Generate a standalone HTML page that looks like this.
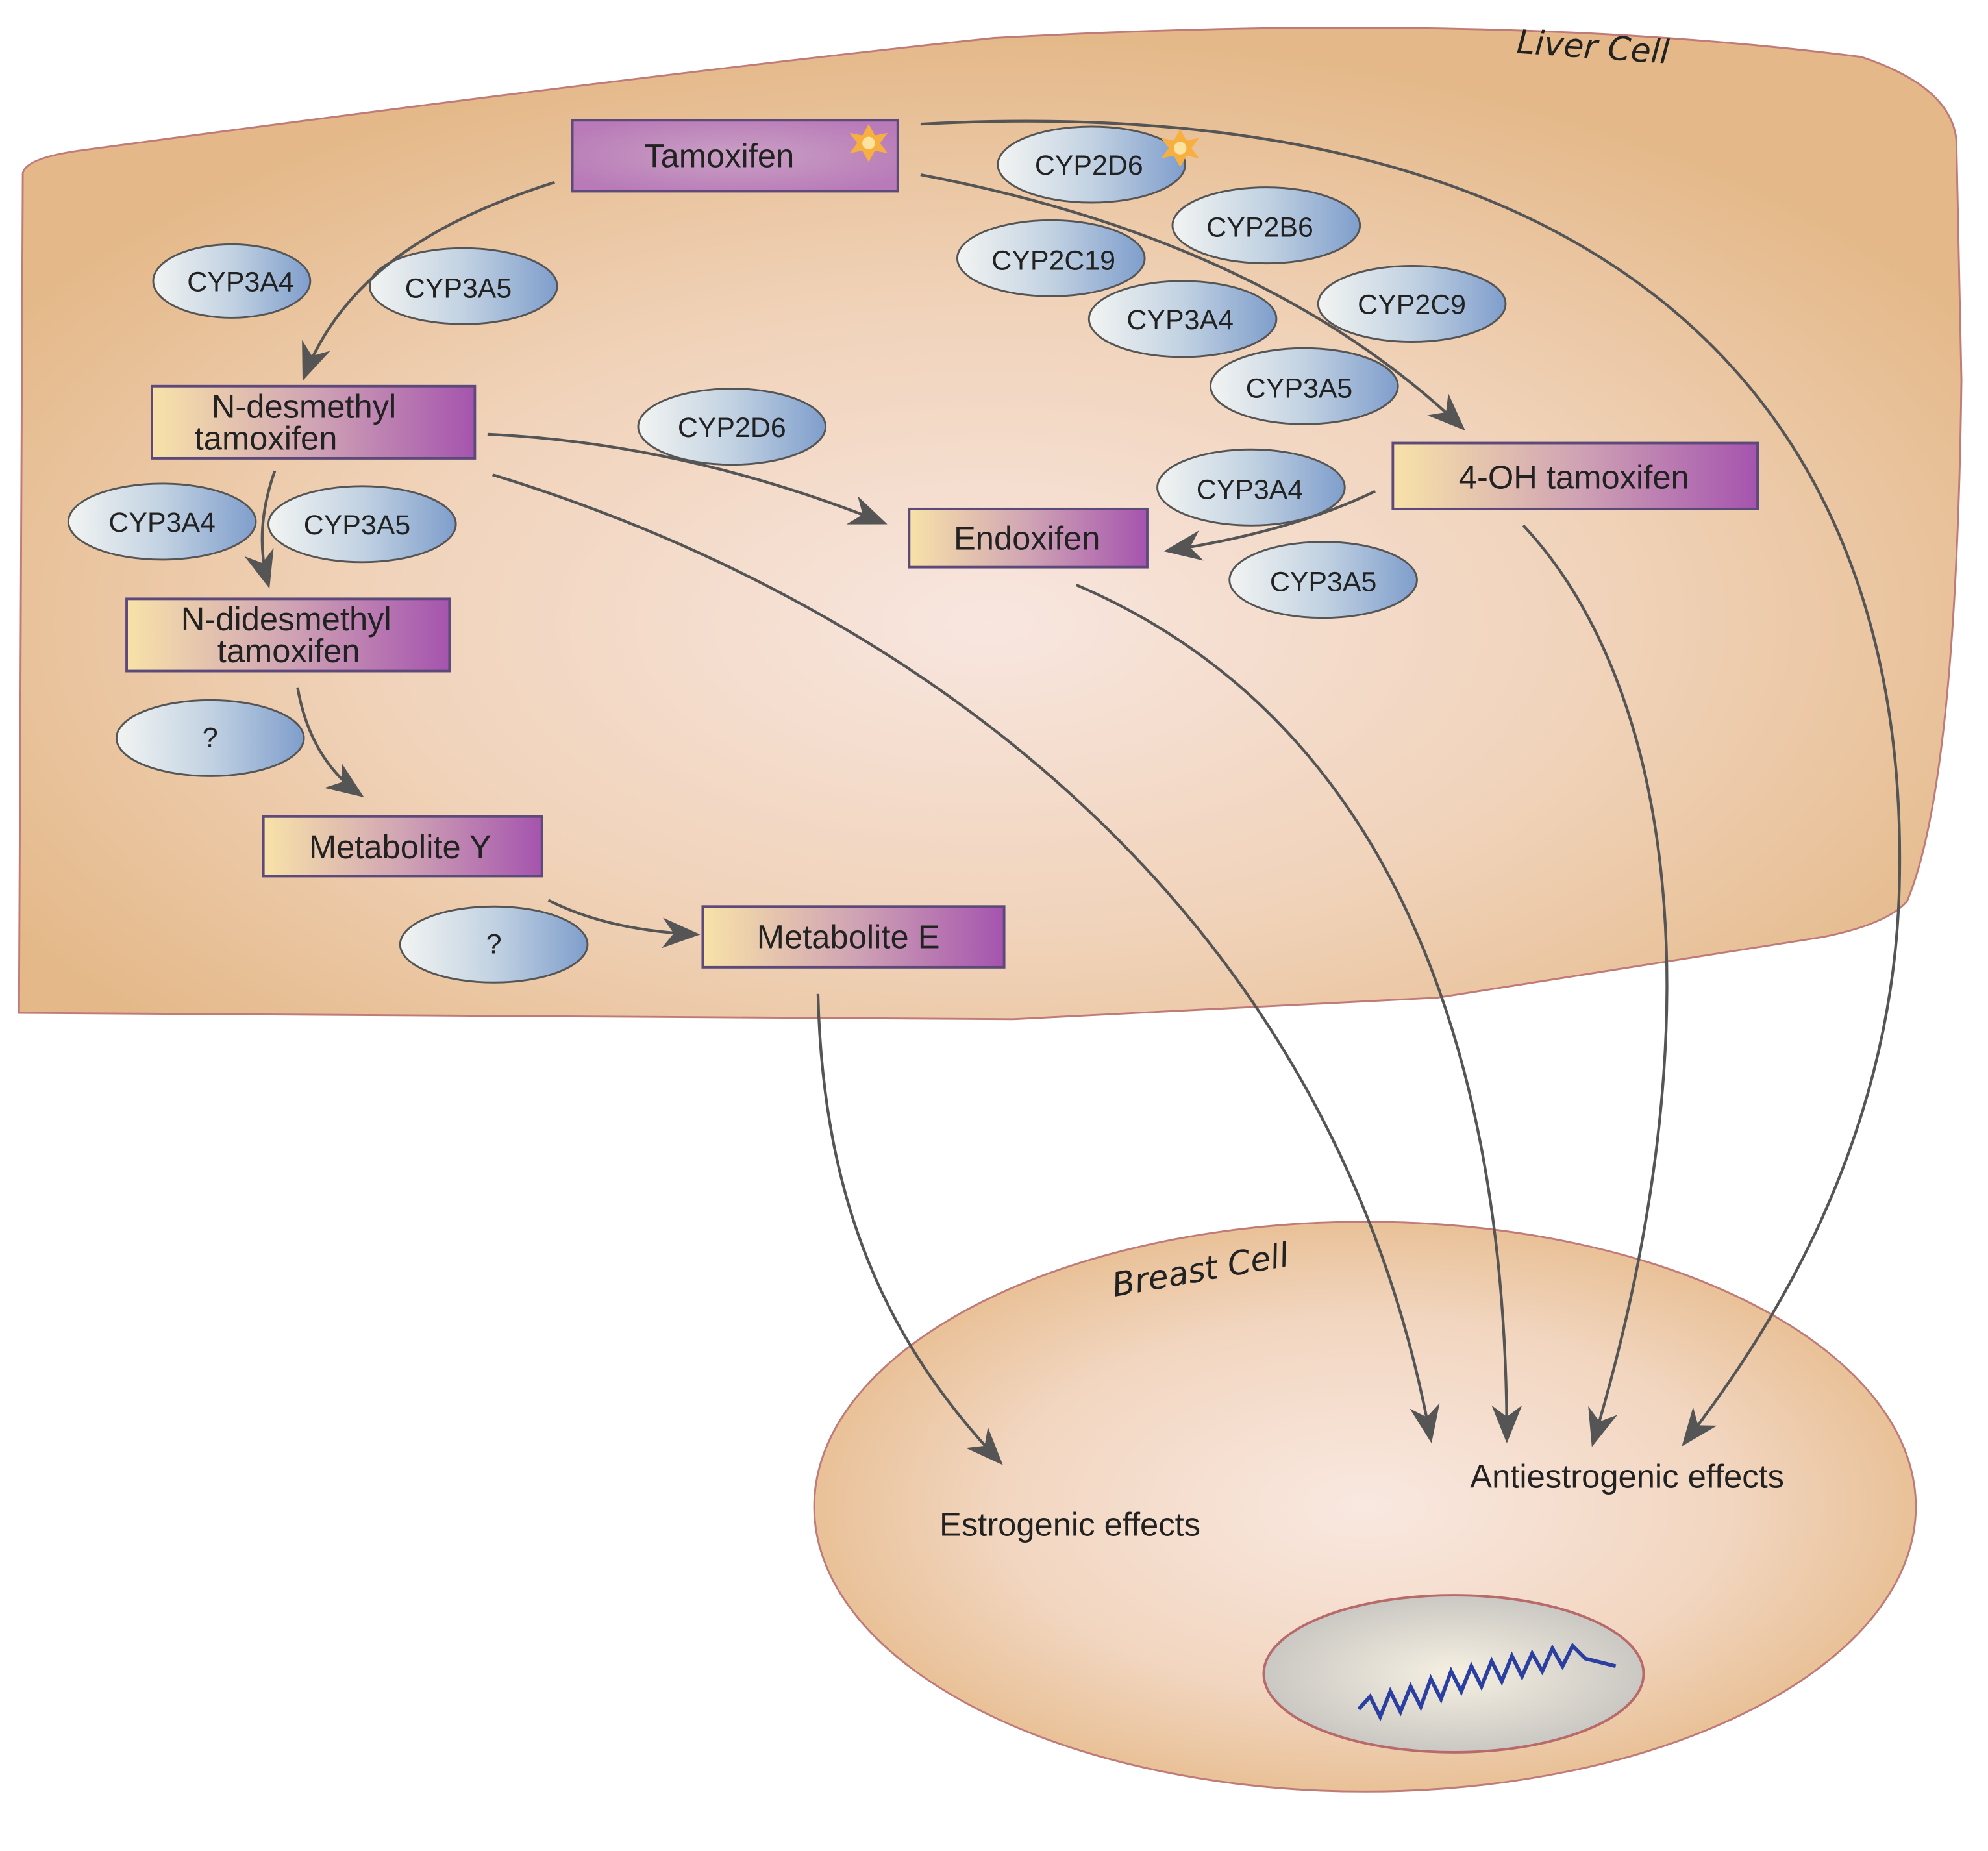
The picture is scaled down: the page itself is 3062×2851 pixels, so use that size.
<!DOCTYPE html>
<html><head><meta charset="utf-8">
<style>
html,body{margin:0;padding:0;background:#fff;}
svg{display:block;}
text{font-family:"Liberation Sans",sans-serif;}
</style></head>
<body>
<svg width="3062" height="2851" viewBox="0 0 1570 1462" preserveAspectRatio="none" xmlns="http://www.w3.org/2000/svg">
<defs>
<radialGradient id="cell" cx="0.5" cy="0.6" r="0.6">
<stop offset="0" stop-color="#f8e6df"/>
<stop offset="0.55" stop-color="#f0d2b8"/>
<stop offset="1" stop-color="#e4b888"/>
</radialGradient>
<radialGradient id="bcell" cx="0.5" cy="0.5" r="0.55">
<stop offset="0" stop-color="#f9e8e0"/>
<stop offset="0.6" stop-color="#f2d6c0"/>
<stop offset="1" stop-color="#e6bb8c"/>
</radialGradient>
<radialGradient id="nuc" cx="0.5" cy="0.5" r="0.55">
<stop offset="0" stop-color="#f6f0e2"/>
<stop offset="1" stop-color="#c6c4c0"/>
</radialGradient>
<linearGradient id="ell" x1="0" y1="0" x2="1" y2="0">
<stop offset="0" stop-color="#f2f4f2"/>
<stop offset="0.5" stop-color="#c2d2e2"/>
<stop offset="1" stop-color="#7f9ecc"/>
</linearGradient>
<linearGradient id="box" x1="0" y1="0" x2="1" y2="0">
<stop offset="0" stop-color="#f8e2a8"/>
<stop offset="0.5" stop-color="#d0a4b4"/>
<stop offset="1" stop-color="#a554ae"/>
</linearGradient>
<radialGradient id="tam" cx="0.5" cy="0.5" r="0.6">
<stop offset="0" stop-color="#caa0c4"/>
<stop offset="1" stop-color="#b87ab8"/>
</radialGradient>
<marker id="ar" viewBox="0 0 20 20" refX="18" refY="10" markerWidth="30" markerHeight="30" markerUnits="userSpaceOnUse" orient="auto">
<path d="M0,2 L20,10 L0,18 L6,10 Z" fill="#555"/>
</marker>
</defs>

<!-- Liver cell -->
<path d="M18,137 Q20,124 70,118 Q500,60 785,30 Q1180,8 1470,45 Q1540,68 1545,110 L1549,300 Q1545,620 1506,712 Q1490,730 1440,740 L1135,788 L800,805 L15,800 Z" fill="url(#cell)" stroke="#c07a78" stroke-width="1.5"/>
<text x="1258" y="46" font-size="26" font-style="italic" fill="#222" text-anchor="middle" transform="rotate(4 1258 38)" style="font-family:'DejaVu Sans',sans-serif">Liver Cell</text>

<!-- Breast cell -->
<ellipse cx="1078" cy="1190" rx="435" ry="225" fill="url(#bcell)" stroke="#c07a78" stroke-width="1.5"/>
<text x="948" y="1012" font-size="26" font-style="italic" fill="#222" text-anchor="middle" transform="rotate(-10 948 1003)" style="font-family:'DejaVu Sans',sans-serif">Breast Cell</text>
<ellipse cx="1148" cy="1322" rx="150" ry="62" fill="url(#nuc)" stroke="#b86a6a" stroke-width="2"/>
<polyline points="1073,1350 1082,1340 1090,1356 1098,1336 1106,1352 1114,1332 1122,1348 1130,1326 1138,1342 1146,1320 1154,1336 1162,1316 1170,1332 1178,1312 1186,1328 1194,1308 1202,1324 1210,1306 1218,1320 1226,1302 1234,1316 1242,1300 1252,1310 1276,1316" fill="none" stroke="#2a3fa0" stroke-width="3"/>

<text x="845" y="1213" font-size="26" fill="#222" text-anchor="middle">Estrogenic effects</text>
<text x="1285" y="1175" font-size="26" fill="#222" text-anchor="middle">Antiestrogenic effects</text>

<!-- Enzymes -->
<g stroke="#555" stroke-width="1.5" fill="url(#ell)">
<ellipse cx="183" cy="222" rx="62" ry="29"/>
<ellipse cx="366" cy="226" rx="74" ry="30"/>
<ellipse cx="862" cy="130" rx="74" ry="30"/>
<ellipse cx="1000" cy="178" rx="74" ry="30"/>
<ellipse cx="830" cy="204" rx="74" ry="30"/>
<ellipse cx="934" cy="252" rx="74" ry="30"/>
<ellipse cx="1115" cy="240" rx="74" ry="30"/>
<ellipse cx="1030" cy="305" rx="74" ry="30"/>
<ellipse cx="578" cy="337" rx="74" ry="30"/>
<ellipse cx="128" cy="412" rx="74" ry="30"/>
<ellipse cx="286" cy="414" rx="74" ry="30"/>
<ellipse cx="988" cy="385" rx="74" ry="30"/>
<ellipse cx="1045" cy="458" rx="74" ry="30"/>
<ellipse cx="166" cy="583" rx="74" ry="30"/>
<ellipse cx="390" cy="746" rx="74" ry="30"/>
</g>
<g font-size="22" fill="#222" text-anchor="middle">
<text x="190" y="230">CYP3A4</text>
<text x="362" y="235">CYP3A5</text>
<text x="860" y="138">CYP2D6</text>
<text x="995" y="187">CYP2B6</text>
<text x="832" y="213">CYP2C19</text>
<text x="932" y="260">CYP3A4</text>
<text x="1115" y="248">CYP2C9</text>
<text x="1026" y="314">CYP3A5</text>
<text x="578" y="345">CYP2D6</text>
<text x="128" y="420">CYP3A4</text>
<text x="282" y="422">CYP3A5</text>
<text x="987" y="394">CYP3A4</text>
<text x="1045" y="467">CYP3A5</text>
<text x="166" y="590">?</text>
<text x="390" y="753">?</text>
</g>

<!-- arrows -->
<g fill="none" stroke="#555" stroke-width="2.2" marker-end="url(#ar)">
<path d="M438,144 C340,175 270,220 240,298"/>
<path d="M727,138 Q1000,190 1155,338"/>
<path d="M727,98 C1250,70 1510,300 1500,700 C1495,900 1400,1050 1330,1140"/>
<path d="M385,343 Q540,350 698,413"/>
<path d="M389,375 C700,470 1050,700 1130,1137"/>
<path d="M217,372 Q200,420 212,462"/>
<path d="M235,543 Q245,600 285,628"/>
<path d="M433,711 Q480,735 550,738"/>
<path d="M1086,388 Q1020,420 922,435"/>
<path d="M850,462 C1080,560 1190,800 1190,1137"/>
<path d="M1203,415 C1320,540 1360,800 1258,1140"/>
<path d="M646,785 C650,950 700,1060 790,1155"/>
</g>

<!-- Boxes -->
<g stroke="#5e4a7a" stroke-width="2">
<rect x="452" y="95" width="257" height="56" fill="url(#tam)"/>
<rect x="120" y="305" width="255" height="57" fill="url(#box)"/>
<rect x="100" y="473" width="255" height="57" fill="url(#box)"/>
<rect x="208" y="645" width="220" height="47" fill="url(#box)"/>
<rect x="555" y="716" width="238" height="48" fill="url(#box)"/>
<rect x="718" y="402" width="188" height="46" fill="url(#box)"/>
<rect x="1100" y="350" width="288" height="52" fill="url(#box)"/>
</g>
<polygon points="686,98 691,107 701,105 695,113 701,121 691,119 686,128 681,119 671,121 677,113 671,105 681,107" fill="#f7b040"/>
<circle cx="686" cy="113" r="5" fill="#fde3a0"/>
<polygon points="932,102 937,111 947,109 941,117 947,125 937,123 932,132 927,123 917,125 923,117 917,109 927,111" fill="#f7b040"/>
<circle cx="932" cy="117" r="5" fill="#fde3a0"/>
<g font-size="26" fill="#222" text-anchor="middle">
<text x="568" y="132">Tamoxifen</text>
<text x="240" y="330">N-desmethyl</text>
<text x="210" y="355">tamoxifen</text>
<text x="226" y="498">N-didesmethyl</text>
<text x="228" y="523">tamoxifen</text>
<text x="316" y="678">Metabolite Y</text>
<text x="670" y="749">Metabolite E</text>
<text x="811" y="434">Endoxifen</text>
<text x="1243" y="386">4-OH tamoxifen</text>
</g>
</svg>
</body></html>
